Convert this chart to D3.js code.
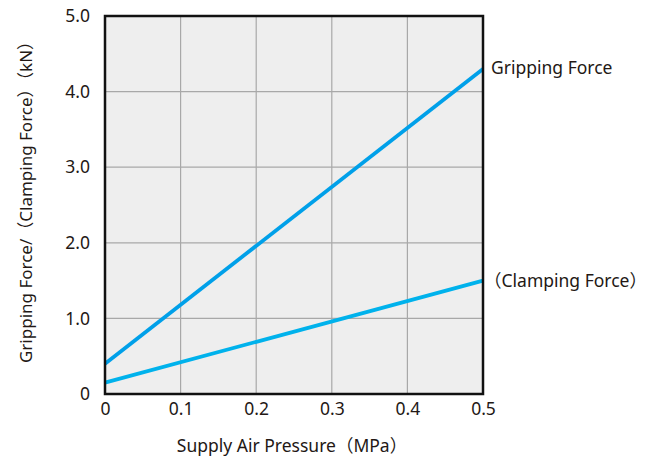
<!DOCTYPE html>
<html>
<head>
<meta charset="utf-8">
<script src="https://cdn.jsdelivr.net/npm/d3@7"></script>
<style>
body{margin:0;background:#fff;}
text{font-family:"Noto Sans","Noto Sans CJK JP",sans-serif;fill:#231815;}
</style>
</head>
<body>
<svg id="c" width="656" height="463"></svg>
<script>
const pressure = [0, 0.5];
const grippingForce = [0.4, 4.3];
const clampingForce = [0.15, 1.5];
const xTicks = [0, 0.1, 0.2, 0.3, 0.4, 0.5];
const xTickLabels = ["0", "0.1", "0.2", "0.3", "0.4", "0.5"];
const yTicks = [0, 1, 2, 3, 4, 5];
const yTickLabels = ["0", "1.0", "2.0", "3.0", "4.0", "5.0"];
const seriesNames = ["Gripping Force", "（Clamping Force）"];
const seriesColors = ["#00a0e9", "#00b2ec"];
const xTitle = "Supply Air Pressure（MPa）";
const yTitle = "Gripping Force/（Clamping Force）（kN）";

const svg = d3.select("#c");
const L = 105, R = 483, T = 16, B = 394;
const FS = 17.5;
const x = d3.scaleLinear().domain([0, 0.5]).range([L, R]);
const y = d3.scaleLinear().domain([0, 5]).range([B, T]);

svg.append("rect").attr("x", L).attr("y", T).attr("width", R - L).attr("height", B - T).attr("fill", "#eeeeee");

const g = svg.append("g");
g.selectAll(".vg").data(xTicks.slice(1, -1)).join("line")
  .attr("x1", d => x(d)).attr("x2", d => x(d)).attr("y1", T).attr("y2", B)
  .attr("stroke", "#a8a8a8").attr("stroke-width", 1.2);
g.selectAll(".hg").data(yTicks.slice(1, -1)).join("line")
  .attr("y1", d => y(d)).attr("y2", d => y(d)).attr("x1", L).attr("x2", R)
  .attr("stroke", "#a8a8a8").attr("stroke-width", 1.2);

const line = d3.line().x(d => x(d[0])).y(d => y(d[1]));
[grippingForce, clampingForce].forEach((s, i) => {
  svg.append("path").datum(pressure.map((p, j) => [p, s[j]]))
    .attr("d", line).attr("fill", "none")
    .attr("stroke", seriesColors[i]).attr("stroke-width", 3.8);
});

svg.append("rect").attr("x", L).attr("y", T).attr("width", R - L).attr("height", B - T)
  .attr("fill", "none").attr("stroke", "#111").attr("stroke-width", 2.5);

// axes
const xAxis = d3.axisBottom(x).tickValues(xTicks).tickFormat((d, i) => xTickLabels[i]).tickSize(0).tickPadding(9);
const xa = svg.append("g").attr("transform", `translate(0,${B})`).call(xAxis);
xa.select(".domain").remove();
xa.selectAll("text").attr("font-size", FS).attr("font-family", null).style("fill", "#231815").attr("dy", "0.71em");

const yAxis = d3.axisLeft(y).tickValues(yTicks).tickFormat((d, i) => yTickLabels[i]).tickSize(0).tickPadding(15);
const ya = svg.append("g").attr("transform", `translate(${L},0)`).call(yAxis);
ya.select(".domain").remove();
ya.selectAll("text").attr("font-size", FS).attr("font-family", null).style("fill", "#231815");
svg.selectAll("g").attr("font-family", null);

svg.append("text").attr("x", (L + R) / 2 - 2).attr("y", 452).attr("text-anchor", "middle")
  .attr("font-size", FS).text(xTitle);
svg.append("text").attr("transform", `translate(32,${(T + B) / 2 - 7}) rotate(-90)`)
  .attr("text-anchor", "middle").attr("font-size", 17).text(yTitle);

// series labels
svg.append("text").attr("x", x(0.5) + 8).attr("y", y(grippingForce[1]) + 5).attr("font-size", FS).text(seriesNames[0]);
svg.append("text").attr("x", x(0.5) + 1).attr("y", y(clampingForce[1]) + 6).attr("font-size", FS).text(seriesNames[1]);
</script>
</body>
</html>
